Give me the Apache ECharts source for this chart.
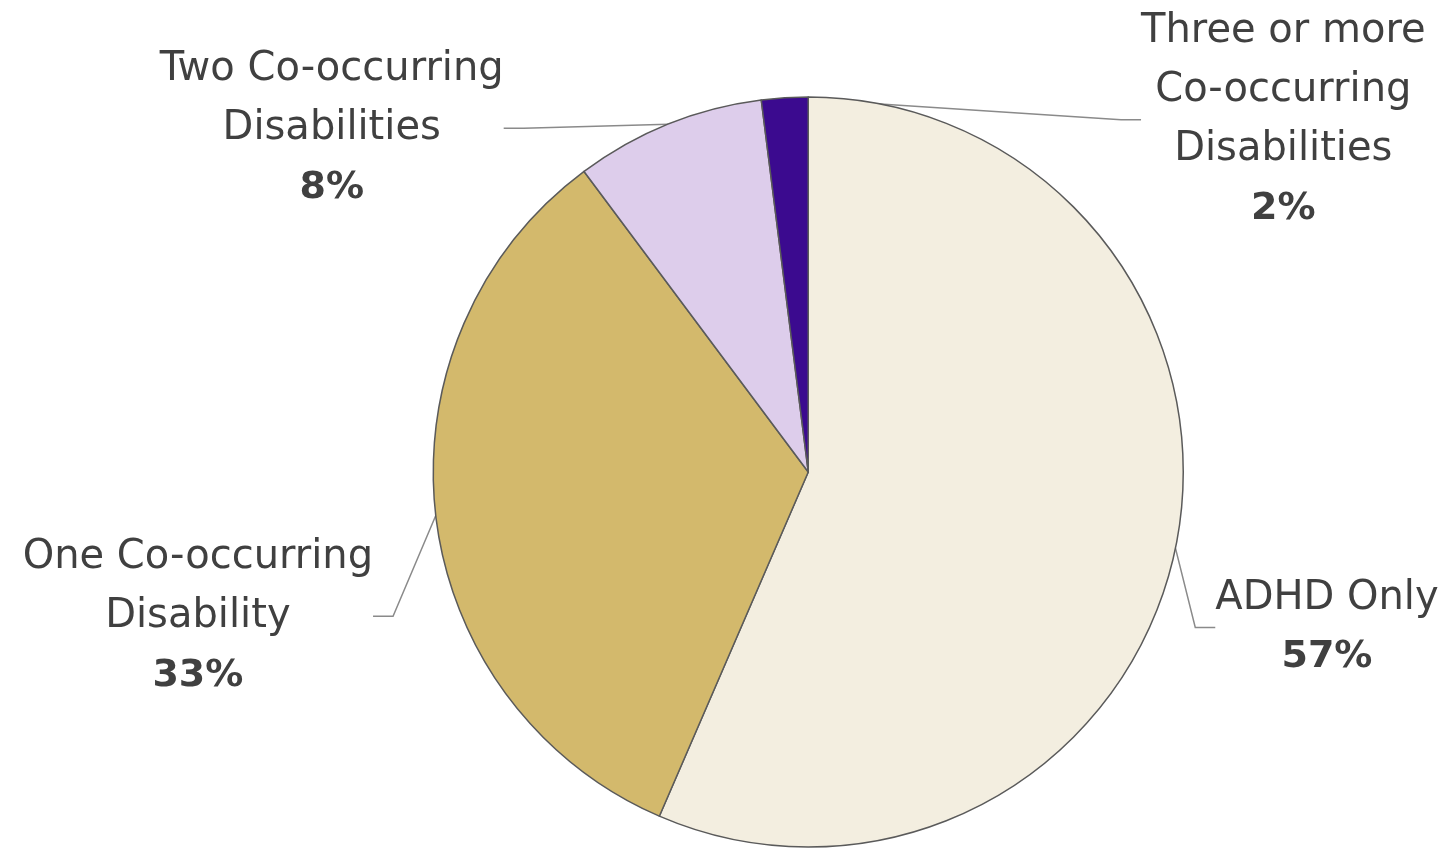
<!DOCTYPE html>
<html>
<head>
<meta charset="utf-8">
<script src="https://cdn.jsdelivr.net/npm/echarts@6/dist/echarts.min.js"></script>
<style>
html,body{margin:0;padding:0;background:#fff;}
#chart{width:1455px;height:859px;}
</style>
</head>
<body>
<div id="chart"></div>
<script>
const categories = ['ADHD Only', 'One Co-occurring\nDisability', 'Two Co-occurring\nDisabilities', 'Three or more\nCo-occurring\nDisabilities'];
const values = [56.5, 33.3, 8.2, 2.0];
const colors = ['#F3EEE0', '#D3B96C', '#DDCDEB', '#3B0A8F'];
// label block centres (fractions of chart width/height)
const labelPos = [[0.912, 0.731], [0.136, 0.718], [0.228, 0.15], [0.882, 0.14]];

const chart = echarts.init(document.getElementById('chart'));
const data = categories.map((c, i) => ({name: c, value: values[i], itemStyle: {color: colors[i]}}));
const font = 'DejaVu Sans';
chart.setOption({
  animation: false,
  series: [{
    type: 'pie',
    center: ['55.55%', '54.95%'],
    radius: 375,
    startAngle: 90,
    clockwise: true,
    data: data,
    itemStyle: {borderColor: '#5a5a5a', borderWidth: 1.5},
    label: {
      show: true,
      position: 'outside',
      fontFamily: font,
      color: '#404040',
      formatter: p => p.name.split('\n').map(s => '{n|' + s + '}').join('\n') + '\n{p|' + Math.round(p.value) + '%}',
      rich: {
        n: {fontSize: 40, lineHeight: 59, color: '#404040', fontFamily: font, align: 'center'},
        p: {fontSize: 38, lineHeight: 59, color: '#404040', fontFamily: font, fontWeight: 'bold', align: 'center'}
      }
    },
    labelLine: {show: true, length: 20, length2: 20, lineStyle: {color: '#8a8a8a', width: 1.5}},
    labelLayout: function (params) {
      const w = chart.getWidth(), h = chart.getHeight();
      const pos = labelPos[params.dataIndex];
      return {x: pos[0] * w, y: pos[1] * h, align: 'center', verticalAlign: 'middle'};
    }
  }]
});
</script>
</body>
</html>
